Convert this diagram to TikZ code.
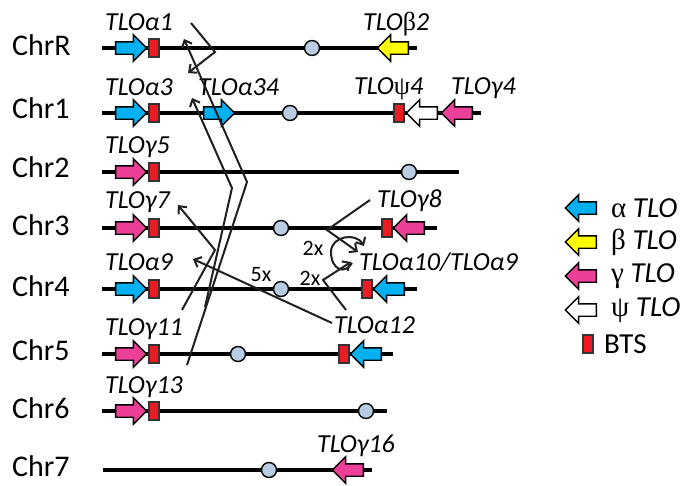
\documentclass[tikz,border=0pt]{standalone}
\usepackage{fontspec}
\setmainfont{Carlito}
\newfontfamily\symf{Liberation Serif}
\usetikzlibrary{shapes.arrows,arrows.meta}
\definecolor{blueg}{RGB}{0,176,240}
\definecolor{yellowg}{RGB}{255,255,0}
\definecolor{pinkg}{RGB}{236,64,152}
\definecolor{btsred}{RGB}{237,28,36}
\definecolor{cenblue}{RGB}{184,204,228}
\definecolor{linegray}{RGB}{35,31,32}
\tikzset{
  chrline/.style={line width=3.5pt, black},
  cen/.style={circle, draw=black, line width=1.4pt, fill=cenblue, minimum size=15pt, inner sep=0pt},
  gene/.style={single arrow, draw=black, line width=1.4pt, inner xsep=0pt, inner ysep=5.5pt, minimum height=31pt, single arrow head extend=7pt},
  geneR/.style={gene},
  geneL/.style={gene, shape border rotate=180},
  bts/.style={rectangle, draw=black!80, line width=1.4pt, fill=btsred, minimum width=10pt, minimum height=18pt, inner sep=0pt},
  lbl/.style={font=\fontsize{26}{30}\selectfont\itshape, anchor=base west, inner sep=0pt},
  chrlbl/.style={font=\fontsize{30}{34}\selectfont, anchor=west, inner sep=0pt},
  cnt/.style={font=\fontsize{22}{26}\selectfont, inner sep=0pt},
  leg/.style={font=\fontsize{29}{33}\selectfont, anchor=west, inner sep=0pt},
  conn/.style={draw=linegray, line width=2pt, line join=miter, -{Straight Barb[length=6pt,width=11pt]}}
}
\begin{document}
\begin{tikzpicture}[x=1pt,y=-1pt]
\useasboundingbox (0,0) rectangle (682,485);
% chromosome labels
\node[chrlbl] (cR) at (12,45) {ChrR};
\node[chrlbl] (c1) at (12,108) {Chr1};
\node[chrlbl] (c2) at (12,167) {Chr2};
\node[chrlbl] (c3) at (12,225) {Chr3};
\node[chrlbl] (c4) at (12,286) {Chr4};
\node[chrlbl] (c5) at (12,350) {Chr5};
\node[chrlbl] (c6) at (12,408) {Chr6};
\node[chrlbl] (c7) at (12,466) {Chr7};
% chromosome lines
\coordinate (sR) at (102,48);  \coordinate (eR) at (417,48);
\coordinate (s1) at (102,113); \coordinate (e1) at (481,113);
\coordinate (s2) at (102,172); \coordinate (e2) at (459,172);
\coordinate (s3) at (102,228); \coordinate (e3) at (437,228);
\coordinate (s4) at (102,289); \coordinate (e4) at (417,289);
\coordinate (s5) at (102,354); \coordinate (e5) at (393,354);
\coordinate (s6) at (102,411); \coordinate (e6) at (387,411);
\coordinate (s7) at (103,470); \coordinate (e7) at (372,470);
\foreach \c in {R,1,2,3,4,5,6,7} \draw[chrline] (s\c) -- (e\c);
% centromeres
\node[cen] (kR) at (312,48) {};
\node[cen] (k1) at (290,113) {};
\node[cen] (k2) at (409,172) {};
\node[cen] (k3) at (281,228) {};
\node[cen] (k4) at (281,289) {};
\node[cen] (k5) at (238,354) {};
\node[cen] (k6) at (366,411) {};
\node[cen] (k7) at (269,470) {};
% left-side genes
\node[geneR, fill=blueg] (gA1) at (128,48) {};
\node[bts] (bA1) at (154,48) {};
\node[geneR, fill=blueg] (gA3) at (128,113) {};
\node[bts] (bA3) at (154,113) {};
\node[geneR, fill=blueg] (gA34) at (216,113) {};
\node[geneR, fill=pinkg] (gG5) at (128,172) {};
\node[bts] (bG5) at (154,172) {};
\node[geneR, fill=pinkg] (gG7) at (128,228) {};
\node[bts] (bG7) at (154,228) {};
\node[geneR, fill=blueg] (gA9) at (128,289) {};
\node[bts] (bA9) at (154,289) {};
\node[geneR, fill=pinkg] (gG11) at (128,354) {};
\node[bts] (bG11) at (154,354) {};
\node[geneR, fill=pinkg] (gG13) at (128,411) {};
\node[bts] (bG13) at (154,411) {};
% right-side genes
\node[geneL, fill=yellowg] (gB2) at (396,48) {};
\node[bts] (bP4) at (399,113) {};
\node[geneL, fill=white] (gP4) at (425,113) {};
\node[geneL, fill=pinkg] (gG4) at (460,113) {};
\node[bts] (bG8) at (387,228) {};
\node[geneL, fill=pinkg] (gG8) at (412,228) {};
\node[bts] (bA10) at (367,289) {};
\node[geneL, fill=blueg] (gA10) at (392,289) {};
\node[bts] (bA12) at (344,354) {};
\node[geneL, fill=blueg] (gA12) at (369,354) {};
\node[geneL, fill=pinkg] (gG16) at (351,470) {};
% gene labels
\node[lbl] (lA1) at (105,30) {TLOα1};
\node[lbl] (lB2) at (363,30) {TLO{\symf\upshape β}2};
\node[lbl] (lA3) at (105,95) {TLOα3};
\node[lbl] (lA34) at (198,95) {TLOα34};
\node[lbl] (lP4) at (354,94) {TLO{\symf\upshape ψ}4};
\node[lbl] (lG4) at (451,94) {TLOγ4};
\node[lbl] (lG5) at (105,153) {TLOγ5};
\node[lbl] (lG7) at (105,208) {TLOγ7};
\node[lbl] (lG8) at (377,207) {TLOγ8};
\node[lbl] (lA9) at (105,270) {TLOα9};
\node[lbl] (lA10) at (359,270) {TLOα10/TLOα9};
\node[lbl] (lG11) at (105,335) {TLOγ11};
\node[lbl] (lA12) at (334,333) {TLOα12};
\node[lbl] (lG13) at (105,393) {TLOγ13};
\node[lbl] (lG16) at (317,452) {TLOγ16};
% connector coordinates
\coordinate (e1s) at (191,23);  \coordinate (e1k) at (215,52);  \coordinate (e1t) at (188,73);
\coordinate (bs) at (187,365);  \coordinate (bk) at (247,182);  \coordinate (bt) at (184,39);
\coordinate (as) at (205,307);  \coordinate (ak) at (232,188);  \coordinate (at3) at (192,98);
\coordinate (cs) at (182,310);  \coordinate (ck) at (215,250);  \coordinate (ct) at (178,205);
\coordinate (ds) at (332,323);  \coordinate (dt) at (193,259);
\coordinate (fs) at (370,200);  \coordinate (fk) at (327,230);  \coordinate (ft) at (358,252);
\coordinate (gs) at (346,310);  \coordinate (gk) at (323,280);  \coordinate (gt) at (351,262);
\coordinate (hs) at (352,263);  \coordinate (hm) at (331,252);  \coordinate (ht) at (364,246);
% connectors
\draw[conn] (e1s) -- (e1k) -- (e1t);
\draw[conn] (bs) -- (bk) -- (bt);
\draw[conn] (as) -- (ak) -- (at3);
\draw[conn] (cs) -- (ck) -- (ct);
\draw[conn] (ds) -- (dt);
\draw[conn] (fs) -- (fk) -- (ft);
\draw[conn] (gs) -- (gk) -- (gt);
\draw[conn] (hs) .. controls (345,275) and (331,270) .. (hm) .. controls (331,236) and (356,232) .. (ht);
% counts
\node[cnt] (n5) at (261,275) {5x};
\node[cnt] (n2a) at (313,248) {2x};
\node[cnt] (n2b) at (310,278) {2x};
% legend
\node[geneL, fill=blueg] (la) at (584,208) {};
\node[geneL, fill=yellowg] (lb) at (584,242) {};
\node[geneL, fill=pinkg] (lg) at (584,276) {};
\node[geneL, fill=white] (lp) at (584,310) {};
\node[bts] (lbts) at (588,344) {};
\node[leg] (ta) at (611,208) {{\symf α} \textit{TLO}};
\node[leg] (tb) at (611,242) {{\symf β} \textit{TLO}};
\node[leg] (tg) at (611,276) {{\symf γ} \textit{TLO}};
\node[leg] (tp) at (611,310) {{\symf ψ} \textit{TLO}};
\node[leg] (tbts) at (604,344) {BTS};
\end{tikzpicture}
\end{document}
